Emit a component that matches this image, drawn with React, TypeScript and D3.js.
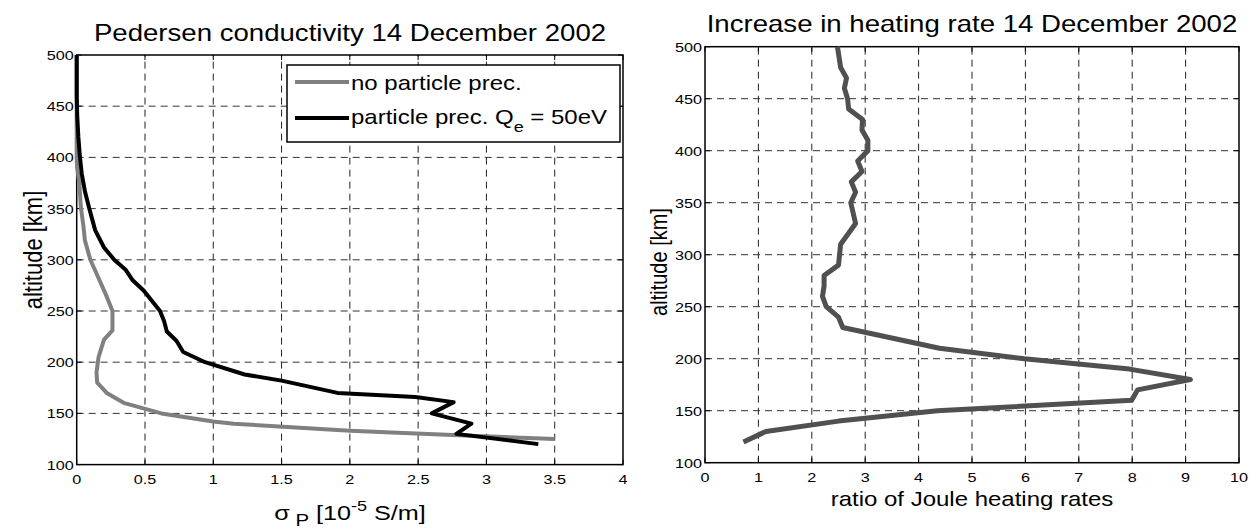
import React from "react";
import * as d3 from "d3";

// ---------- data ----------
const ALT_NOPREC = [500, 450, 400, 390, 374, 352, 332, 319, 300, 280, 264, 250, 231, 222, 205, 190, 180, 170, 160, 150, 142, 140, 133, 129, 125];
const SIGMA_NOPREC = [0, 0, 0, 0.003, 0.02, 0.03, 0.05, 0.06, 0.1, 0.167, 0.22, 0.262, 0.262, 0.2, 0.16, 0.145, 0.15, 0.22, 0.35, 0.62, 1.0, 1.15, 2.0, 2.75, 3.5];

const ALT_PREC = [500, 460, 440, 420, 400, 384, 367, 350, 329, 312, 300, 290, 280, 270, 250, 240, 230, 221, 210, 200, 188, 182, 170, 166, 161, 150, 140, 130, 120];
const SIGMA_PREC = [0, 0, 0.004, 0.012, 0.024, 0.037, 0.06, 0.092, 0.135, 0.2, 0.275, 0.36, 0.41, 0.49, 0.61, 0.64, 0.66, 0.73, 0.78, 0.94, 1.23, 1.5, 1.91, 2.48, 2.76, 2.6, 2.89, 2.78, 3.38];

const ALT_RATIO = [120, 130, 140, 150, 160, 170, 180, 190, 200, 210, 230, 240, 250, 260, 270, 280, 290, 310, 330, 350, 360, 370, 380, 390, 400, 410, 420, 430, 440, 450, 460, 470, 480, 500];
const RATIO = [0.72, 1.14, 2.5, 4.35, 7.99, 8.1, 9.09, 7.95, 5.98, 4.39, 2.58, 2.5, 2.27, 2.2, 2.23, 2.23, 2.5, 2.54, 2.82, 2.73, 2.82, 2.74, 2.94, 2.86, 3.05, 3.05, 2.94, 2.95, 2.69, 2.67, 2.61, 2.65, 2.54, 2.48];

const LEFT_X_TICKS = [0, 0.5, 1, 1.5, 2, 2.5, 3, 3.5, 4];
const RIGHT_X_TICKS = [0, 1, 2, 3, 4, 5, 6, 7, 8, 9, 10];
const Y_TICKS = [100, 150, 200, 250, 300, 350, 400, 450, 500];

const LEFT_TITLE = "Pedersen conductivity 14 December 2002";
const RIGHT_TITLE = "Increase in heating rate 14 December 2002";
const LEGEND_LABELS = ["no particle prec.", "particle prec. Q", "e", " = 50eV"];

const FONT = "Liberation Sans, Arial, Helvetica, sans-serif";
const SX = 1.2; // horizontal stretch of the original figure

type Pt = [number, number];

function SText(props: { x: number; y: number; size: number; anchor?: string; children: React.ReactNode; rotate?: boolean }) {
  const { x, y, size, anchor = "middle", children, rotate } = props;
  const tr = rotate
    ? `translate(${x},${y}) scale(${SX},1) rotate(-90)`
    : `translate(${x},${y}) scale(${SX},1)`;
  return (
    <text transform={tr} fontSize={size} fontFamily={FONT} textAnchor={anchor as any} fill="#000">
      {children}
    </text>
  );
}

function Frame(props: {
  x: d3.ScaleLinear<number, number>;
  y: d3.ScaleLinear<number, number>;
  xTicks: number[];
  yTicks: number[];
  tickSize: number;
  fmtX: (v: number) => string;
}) {
  const { x, y, xTicks, yTicks, tickSize, fmtX } = props;
  const [x0, x1] = x.range();
  const [y0, y1] = y.range(); // y0 bottom, y1 top
  const dash = "7,5";
  return (
    <g>
      {xTicks.slice(1, -1).map((t) => (
        <line key={"gx" + t} x1={x(t)} x2={x(t)} y1={y0} y2={y1} stroke="#222" strokeWidth={1} strokeDasharray={dash} />
      ))}
      {yTicks.slice(1, -1).map((t) => (
        <line key={"gy" + t} x1={x0} x2={x1} y1={y(t)} y2={y(t)} stroke="#333" strokeWidth={1} strokeDasharray={dash} />
      ))}
      {xTicks.map((t) => (
        <g key={"tx" + t}>
          <line x1={x(t)} x2={x(t)} y1={y0} y2={y0 - 5} stroke="#000" />
          <line x1={x(t)} x2={x(t)} y1={y1} y2={y1 + 5} stroke="#000" />
          <SText x={x(t)} y={y0 + 19} size={tickSize}>{fmtX(t)}</SText>
        </g>
      ))}
      {yTicks.map((t) => (
        <g key={"ty" + t}>
          <line x1={x0} x2={x0 + 5} y1={y(t)} y2={y(t)} stroke="#000" />
          <line x1={x1} x2={x1 - 5} y1={y(t)} y2={y(t)} stroke="#000" />
          <SText x={x0 - 3} y={y(t) + 5} size={tickSize} anchor="end">{String(t)}</SText>
        </g>
      ))}
      <rect x={x0} y={y1} width={x1 - x0} height={y0 - y1} fill="none" stroke="#000" strokeWidth={1.5} />
    </g>
  );
}

export default function App() {
  // left panel
  const xL = d3.scaleLinear().domain([0, 4]).range([76.7, 623]);
  const yL = d3.scaleLinear().domain([100, 500]).range([464.6, 55]);
  // right panel
  const xR = d3.scaleLinear().domain([0, 10]).range([705, 1239]);
  const yR = d3.scaleLinear().domain([100, 500]).range([462.7, 46.7]);

  const lineL = d3.line<Pt>().x((d) => xL(d[0])).y((d) => yL(d[1]));
  const lineR = d3.line<Pt>().x((d) => xR(d[0])).y((d) => yR(d[1]));

  const noPrec: Pt[] = SIGMA_NOPREC.map((v, i) => [v, ALT_NOPREC[i]]);
  const prec: Pt[] = SIGMA_PREC.map((v, i) => [v, ALT_PREC[i]]);
  const ratio: Pt[] = RATIO.map((v, i) => [v, ALT_RATIO[i]]);

  const fmtL = (v: number) => (v === 0 ? "0" : String(v));

  return (
    <div style={{ position: "absolute", left: 0, top: 0 }}>
      <svg width={1254} height={532} style={{ display: "block", background: "#fff" }}>
        <rect width={1254} height={532} fill="#fff" />
        {/* LEFT */}
        <SText x={350} y={41} size={23}>{LEFT_TITLE}</SText>
        <Frame x={xL} y={yL} xTicks={LEFT_X_TICKS} yTicks={Y_TICKS} tickSize={13.5} fmtX={fmtL} />
        <path d={lineL(noPrec) || ""} fill="none" stroke="#808080" strokeWidth={4} strokeLinejoin="round" />
        <path d={lineL(prec) || ""} fill="none" stroke="#000" strokeWidth={4} strokeLinejoin="round" />
        {/* legend */}
        <g>
          <rect x={287} y={65} width={333} height={77} fill="#fff" stroke="#000" strokeWidth={1.5} />
          <line x1={295} x2={349} y1={82} y2={82} stroke="#808080" strokeWidth={4} />
          <line x1={295} x2={349} y1={118} y2={118} stroke="#000" strokeWidth={4} />
          <SText x={351} y={90} size={20} anchor="start">{LEGEND_LABELS[0]}</SText>
          <text transform={`translate(351,124) scale(${SX},1)`} fontSize={20} fontFamily={FONT} fill="#000">
            {LEGEND_LABELS[1]}
            <tspan fontSize={15} dy={8}>{LEGEND_LABELS[2]}</tspan>
            <tspan dy={-8}>{LEGEND_LABELS[3]}</tspan>
          </text>
        </g>
        <SText x={42} y={250} size={22} rotate>altitude [km]</SText>
        <text transform={`translate(350,520) scale(${SX},1)`} fontSize={21} fontFamily={FONT} textAnchor="middle" fill="#000">
          σ
          <tspan fontSize={17} dy={6}> P</tspan>
          <tspan dy={-6}> [10</tspan>
          <tspan fontSize={15} dy={-9}>-5</tspan>
          <tspan dy={9}> S/m]</tspan>
        </text>

        {/* RIGHT */}
        <SText x={972} y={32} size={23}>{RIGHT_TITLE}</SText>
        <Frame x={xR} y={yR} xTicks={RIGHT_X_TICKS} yTicks={Y_TICKS} tickSize={13.5} fmtX={(v) => String(v)} />
        <path d={lineR(ratio) || ""} fill="none" stroke="#505050" strokeWidth={5} strokeLinejoin="round" />
        <SText x={667} y={262} size={20} rotate>altitude [km]</SText>
        <SText x={972} y={506} size={20}>ratio of Joule heating rates</SText>
      </svg>
    </div>
  );
}
